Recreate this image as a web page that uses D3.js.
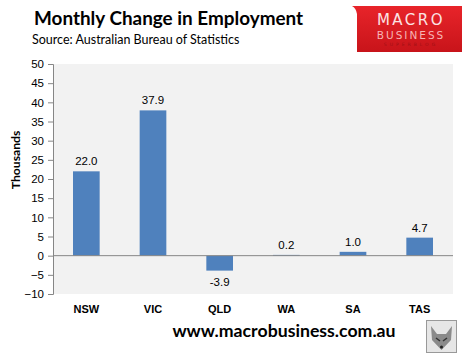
<!DOCTYPE html>
<html><head><meta charset="utf-8">
<script src="https://cdn.jsdelivr.net/npm/d3@7"></script>
<style>body{margin:0;background:#fff}svg{display:block}</style>
</head><body>
<script>
const categories = ["NSW","VIC","QLD","WA","SA","TAS"];
const values = [22.0, 37.9, -3.9, 0.2, 1.0, 4.7];
const yTicks = [-10,-5,0,5,10,15,20,25,30,35,40,45,50];

const W = 465, H = 358;
const svg = d3.select("body").append("svg").attr("width", W).attr("height", H);
const m = {left: 53, right: 453, top: 64, bottom: 294};

const x = d3.scaleBand().domain(categories).range([m.left, m.right]).paddingInner(0.6).paddingOuter(0.3);
const y = d3.scaleLinear().domain([-10, 50]).range([m.bottom, m.top]);

svg.append("rect").attr("x", m.left).attr("y", m.top).attr("width", m.right - m.left).attr("height", m.bottom - m.top).attr("fill", "#f2f2f2");

// bars
svg.selectAll("rect.bar").data(values).join("rect").attr("class","bar")
  .attr("x", (d,i) => x(categories[i]))
  .attr("width", x.bandwidth())
  .attr("y", d => y(Math.max(0,d)))
  .attr("height", d => Math.abs(y(d) - y(0)))
  .attr("fill", "#4f81bd");

// zero line
svg.append("line").attr("x1", m.left).attr("x2", m.right).attr("y1", y(0)).attr("y2", y(0)).attr("stroke", "#868686").attr("stroke-width", 1);

// y axis
const ya = svg.append("g").attr("transform", `translate(${m.left},0)`)
  .call(d3.axisLeft(y).tickValues(yTicks).tickSize(5).tickPadding(4));
ya.select(".domain").attr("stroke", "#868686");
ya.selectAll(".tick line").attr("stroke", "#868686");
ya.selectAll("text").attr("font-family", "Liberation Sans, Arial, sans-serif").attr("font-size", 11.5).attr("fill", "#000");

// value labels
svg.selectAll("text.val").data(values).join("text").attr("class","val")
  .attr("x", (d,i) => x(categories[i]) + x.bandwidth()/2)
  .attr("y", d => d >= 0 ? y(d) - 6 : y(d) + 15)
  .attr("text-anchor", "middle")
  .attr("font-family", "Liberation Sans, Arial, sans-serif").attr("font-size", 11.5)
  .text(d => d.toFixed(1));

// category labels
svg.selectAll("text.cat").data(categories).join("text").attr("class","cat")
  .attr("x", d => x(d) + x.bandwidth()/2)
  .attr("y", 313)
  .attr("text-anchor", "middle")
  .attr("font-family", "Liberation Sans, Arial, sans-serif").attr("font-size", 11).attr("font-weight", "bold")
  .text(d => d);

// y title
svg.append("text").attr("transform", `translate(20,160) rotate(-90)`)
  .attr("text-anchor", "middle").attr("font-family", "Lato, sans-serif").attr("font-size", 12.2).attr("font-weight", "bold")
  .text("Thousands");

// title
svg.append("text").attr("x", 34).attr("y", 25).attr("font-family", "Lato, sans-serif").attr("font-size", 18.9).attr("font-weight", "bold").text("Monthly Change in Employment");
svg.append("text").attr("x", 32).attr("y", 44).attr("font-family", "Lato, sans-serif").attr("font-size", 12.5).text("Source:  Australian Bureau of Statistics");

// website
svg.append("text").attr("x", 284).attr("y", 337).attr("text-anchor", "middle").attr("font-family", "Lato, sans-serif").attr("font-size", 17.7).attr("font-weight", "bold").text("www.macrobusiness.com.au");

// logo
const defs = svg.append("defs");
const g1 = defs.append("linearGradient").attr("id","lg").attr("x1","0").attr("y1","0").attr("x2","0").attr("y2","1");
g1.append("stop").attr("offset","0").attr("stop-color","#e8242a");
g1.append("stop").attr("offset","1").attr("stop-color","#c8141a");
svg.append("path").attr("d","M352,6 L462,6 L462,52 L357,52 L357,14 Q356,8 352,6 Z").attr("fill","url(#lg)");
svg.append("text").attr("x", 411).attr("y", 25).attr("text-anchor","middle").attr("font-family","DejaVu Sans, sans-serif").attr("font-size", 15).attr("letter-spacing", 2.5).attr("fill","#fbe3e3").text("MACRO");
svg.append("text").attr("x", 411).attr("y", 39).attr("text-anchor","middle").attr("font-family","DejaVu Sans, sans-serif").attr("font-size", 10.5).attr("letter-spacing", 2).attr("fill","#f7b5b5").text("BUSINESS");
svg.append("text").attr("x", 411).attr("y", 46).attr("text-anchor","middle").attr("font-family","DejaVu Sans, sans-serif").attr("font-size", 4.5).attr("letter-spacing", 3).attr("fill","#9e1015").text("SUPERBLOG");

// fox icon
svg.append("rect").attr("x", 426.5).attr("y", 320.5).attr("width", 30).attr("height", 32).attr("fill","#e6e6e6").attr("stroke","#999");
svg.append("path").attr("d","M431,326 L437,334 L446,334 L452,326 L451,340 L441.5,350 L432,340 Z").attr("fill","#8a8a8a");
svg.append("path").attr("d","M436,338 L440,341 M447,338 L443,341").attr("stroke","#333").attr("stroke-width",1.5);
svg.append("circle").attr("cx",441.5).attr("cy",347).attr("r",1.5).attr("fill","#222");
</script>
</body></html>
